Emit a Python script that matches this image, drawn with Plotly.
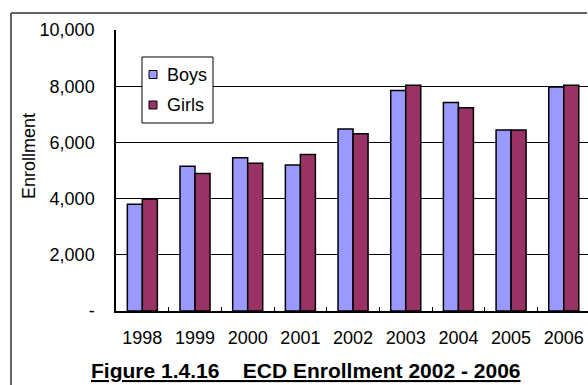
import plotly.graph_objects as go

# Enrollment by year and sex
years = ["1998", "1999", "2000", "2001", "2002", "2003", "2004", "2005", "2006"]
boys = [3800, 5150, 5450, 5200, 6480, 7850, 7420, 6440, 7970]
girls = [3990, 4890, 5260, 5570, 6310, 8030, 7230, 6440, 8030]

y_tick_values = [0, 2000, 4000, 6000, 8000, 10000]
y_tick_labels = ["-", "2,000", "4,000", "6,000", "8,000", "10,000"]

series = [("Boys", boys, "#9999FF"), ("Girls", girls, "#993366")]

FONT = "Arial, Liberation Sans, sans-serif"
W, H = 588, 385
ML, MR, MT, MB = 116, 0, 30, 74
PW, PH = W - ML - MR, H - MT - MB


def px(x):
    """Pixel column -> paper x."""
    return (x - ML) / PW


def py(y):
    """Pixel row -> paper y."""
    return (H - MB - y) / PH


fig = go.Figure()
for name, vals, color in series:
    fig.add_trace(go.Bar(
        x=years, y=vals, name=name,
        marker=dict(color=color, line=dict(color="black", width=1.5)),
    ))

shapes = [
    # outer chart frame (top and left edges)
    dict(type="line", xref="paper", yref="paper",
         x0=px(11), x1=px(587), y0=py(13), y1=py(13),
         line=dict(color="#333333", width=1.5)),
    dict(type="line", xref="paper", yref="paper",
         x0=px(11), x1=px(11), y0=py(13), y1=py(H),
         line=dict(color="#333333", width=1.5)),
    # legend box
    dict(type="rect", xref="paper", yref="paper",
         x0=px(142), x1=px(213), y0=py(123), y1=py(57),
         line=dict(color="black", width=1), fillcolor="white", layer="above"),
]

annotations = [
    dict(text="Enrollment", xref="paper", yref="paper",
         x=px(29), y=py(156), textangle=-90,
         xanchor="center", yanchor="middle", showarrow=False,
         font=dict(size=18)),
    dict(text="<b><u>Figure 1.4.16&nbsp;&nbsp;&nbsp;&nbsp;ECD Enrollment 2002 - 2006</u></b>",
         xref="paper", yref="paper", x=px(306), y=py(370),
         xanchor="center", yanchor="middle", showarrow=False,
         font=dict(size=21)),
]

# legend entries: swatch + label
for i, (name, vals, color) in enumerate(series):
    cy = 74.5 + i * 30.5
    shapes.append(dict(
        type="rect", xref="paper", yref="paper",
        x0=px(149), x1=px(157), y0=py(cy + 4), y1=py(cy - 4),
        line=dict(color="black", width=1), fillcolor=color, layer="above"))
    annotations.append(dict(
        text=name, xref="paper", yref="paper", x=px(165), y=py(cy),
        xanchor="left", yanchor="middle", showarrow=False,
        font=dict(size=18)))

fig.update_layout(
    width=W, height=H,
    margin=dict(l=ML, r=MR, t=MT, b=MB),
    paper_bgcolor="white", plot_bgcolor="white",
    font=dict(family=FONT, size=18, color="black"),
    barmode="group", bargap=0.43, bargroupgap=0,
    showlegend=False,
    xaxis=dict(
        type="category", range=[-0.5, 8.46],
        showline=True, linecolor="black", linewidth=1.5,
        ticks="inside", tickson="boundaries", ticklen=4,
        tickcolor="black", tickwidth=1,
        ticklabelstandoff=10, showgrid=False,
    ),
    yaxis=dict(
        range=[0, 10000], tickvals=y_tick_values, ticktext=y_tick_labels,
        showline=True, linecolor="black", linewidth=1.5,
        showgrid=True, gridcolor="black", gridwidth=1,
        zeroline=False, ticks="", ticklabelstandoff=16,
    ),
    annotations=annotations,
    shapes=shapes,
)

fig.write_html("out.html", config={"displayModeBar": False})
